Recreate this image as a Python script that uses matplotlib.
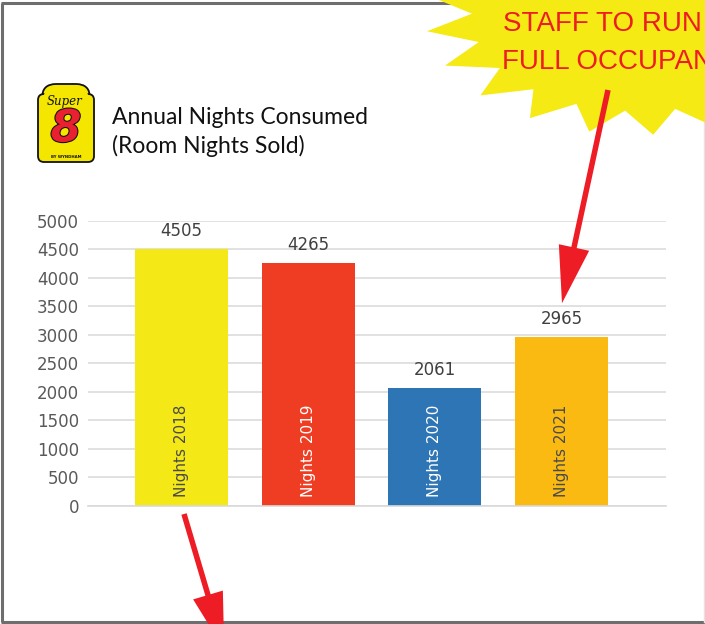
import numpy as np
import matplotlib
matplotlib.use("Agg")
import matplotlib.pyplot as plt
import matplotlib.patheffects as pe
from matplotlib.patches import Polygon, FancyArrow, FancyBboxPatch

# ---- data ----
categories = ["Nights 2018", "Nights 2019", "Nights 2020", "Nights 2021"]
values = [4505, 4265, 2061, 2965]
bar_colors = ["#F4E816", "#EE3D23", "#2E75B5", "#FBBA12"]
label_colors = ["#4a4a4a", "#ffffff", "#ffffff", "#4a4a4a"]
yticks = [0, 500, 1000, 1500, 2000, 2500, 3000, 3500, 4000, 4500, 5000]
title_lines = ["Annual Nights Consumed", "(Room Nights Sold)"]
burst_lines = ["STAFF TO RUN AT", "FULL OCCUPANCY"]

W, H = 705, 624
fig = plt.figure(figsize=(W / 100, H / 100), dpi=100)
fig.patch.set_facecolor("white")

# ---- main chart ----
ax = fig.add_axes([88 / W, (H - 505.7) / H, (666 - 88) / W, (505.7 - 221) / H])
x = np.arange(len(categories))
ax.bar(x, values, width=0.735, color=bar_colors, zorder=2)
ax.set_xlim(-0.738, 3.824)
ax.set_ylim(0, 5000)
ax.set_yticks(yticks)
ax.set_yticklabels([str(t) for t in yticks], fontsize=12, color="#595959")
ax.tick_params(axis="y", length=0, pad=6.5)
ax.set_xticks([])
for s in ["top", "right", "left"]:
    ax.spines[s].set_visible(False)
ax.spines["bottom"].set_color("#d9d9d9")
ax.spines["bottom"].set_linewidth(1.2)
ax.yaxis.grid(True, color="#dcdcdc", linewidth=1.2, zorder=0)
ax.set_axisbelow(True)
ax.set_facecolor("none")

for xi, v, lab, lc in zip(x, values, categories, label_colors):
    ax.annotate(str(v), (xi, v), xytext=(0, 6.5), textcoords="offset points",
                ha="center", va="bottom", fontsize=12, color="#404040")
    ax.annotate(lab, (xi, 0), xytext=(0, 6), textcoords="offset points",
                rotation=90, ha="center", va="bottom", fontsize=11, color=lc)

# ---- overlay in pixel coordinates ----
ov = fig.add_axes([0, 0, 1, 1], zorder=5)
ov.set_xlim(0, W)
ov.set_ylim(H, 0)
ov.axis("off")
ov.patch.set_alpha(0)

# frame
frame_c = "#6e6e6e"
ov.plot([2, 2], [3, 622], color=frame_c, lw=2.2, solid_capstyle="butt")
ov.plot([1, W], [3, 3], color=frame_c, lw=2.2, solid_capstyle="butt")
ov.plot([1, W], [622, 622], color=frame_c, lw=2.2, solid_capstyle="butt")
ov.plot([704, 704], [3, 622], color="#e4e4e4", lw=1.0)

# starburst
n = 21
cx, cy = 640, 15
a0 = np.deg2rad(86.5)
pts = []
for i in range(2 * n):
    ang = a0 + i * np.pi / n
    rx, ry = (215, 120) if i % 2 == 0 else (168, 96)
    pts.append((cx + rx * np.cos(ang), cy + ry * np.sin(ang)))
ov.add_patch(Polygon(pts, closed=True, facecolor="#F5EA14", edgecolor="none", zorder=3))
ov.text(503, 31, burst_lines[0], fontsize=20, color="#EE1C25",
        family="Liberation Sans", ha="left", va="baseline", zorder=4)
ov.text(502, 69, burst_lines[1], fontsize=20, color="#EE1C25",
        family="Liberation Sans", ha="left", va="baseline", zorder=4)

# arrows
red = "#EE1C24"
for (x0, y0), (bx, by) in [((608, 90), (574, 247.5)), ((184, 514), (208, 595))]:
    d = np.array([bx - x0, by - y0])
    L = np.linalg.norm(d)
    u = d / L
    total = L + 57
    ov.add_patch(FancyArrow(x0, y0, u[0] * total, u[1] * total, width=5.5,
                            head_width=31, head_length=57,
                            length_includes_head=True, color=red, lw=0, zorder=6))

# title
ov.text(112, 124, title_lines[0], fontsize=16.5, color="#111111",
        family="Lato", ha="left", va="baseline")
ov.text(112, 153, title_lines[1], fontsize=16.5, color="#111111",
        family="Lato", ha="left", va="baseline")

# logo (simplified Super 8 shield)
ov.add_patch(FancyBboxPatch((42, 84), 48, 30, boxstyle="round,pad=0,rounding_size=14",
                            facecolor="#F5E600", edgecolor="#111111", lw=1.3, zorder=2))
ov.add_patch(FancyBboxPatch((38, 94), 56, 68, boxstyle="round,pad=0,rounding_size=6",
                            facecolor="#F5E600", edgecolor="#111111", lw=1.3, zorder=3))
ov.add_patch(FancyBboxPatch((43.5, 86), 45, 30, boxstyle="round,pad=0,rounding_size=13",
                            facecolor="#F5E600", edgecolor="none", zorder=3.5))
ov.text(65, 101, "Super", fontsize=8.5, style="italic", color="#111111",
        ha="center", va="center", family="DejaVu Serif", zorder=4)
ov.text(66, 129, "8", fontsize=32, style="italic", weight="bold", color="#E8202F",
        ha="center", va="center", family="DejaVu Sans", zorder=4,
        path_effects=[pe.withStroke(linewidth=1.5, foreground="#111111")])
ov.text(66, 157, "BY WYNDHAM", fontsize=2.8, color="#111111", weight="bold",
        ha="center", va="center", zorder=4)

fig.savefig("out.png", dpi=100, facecolor="white")
